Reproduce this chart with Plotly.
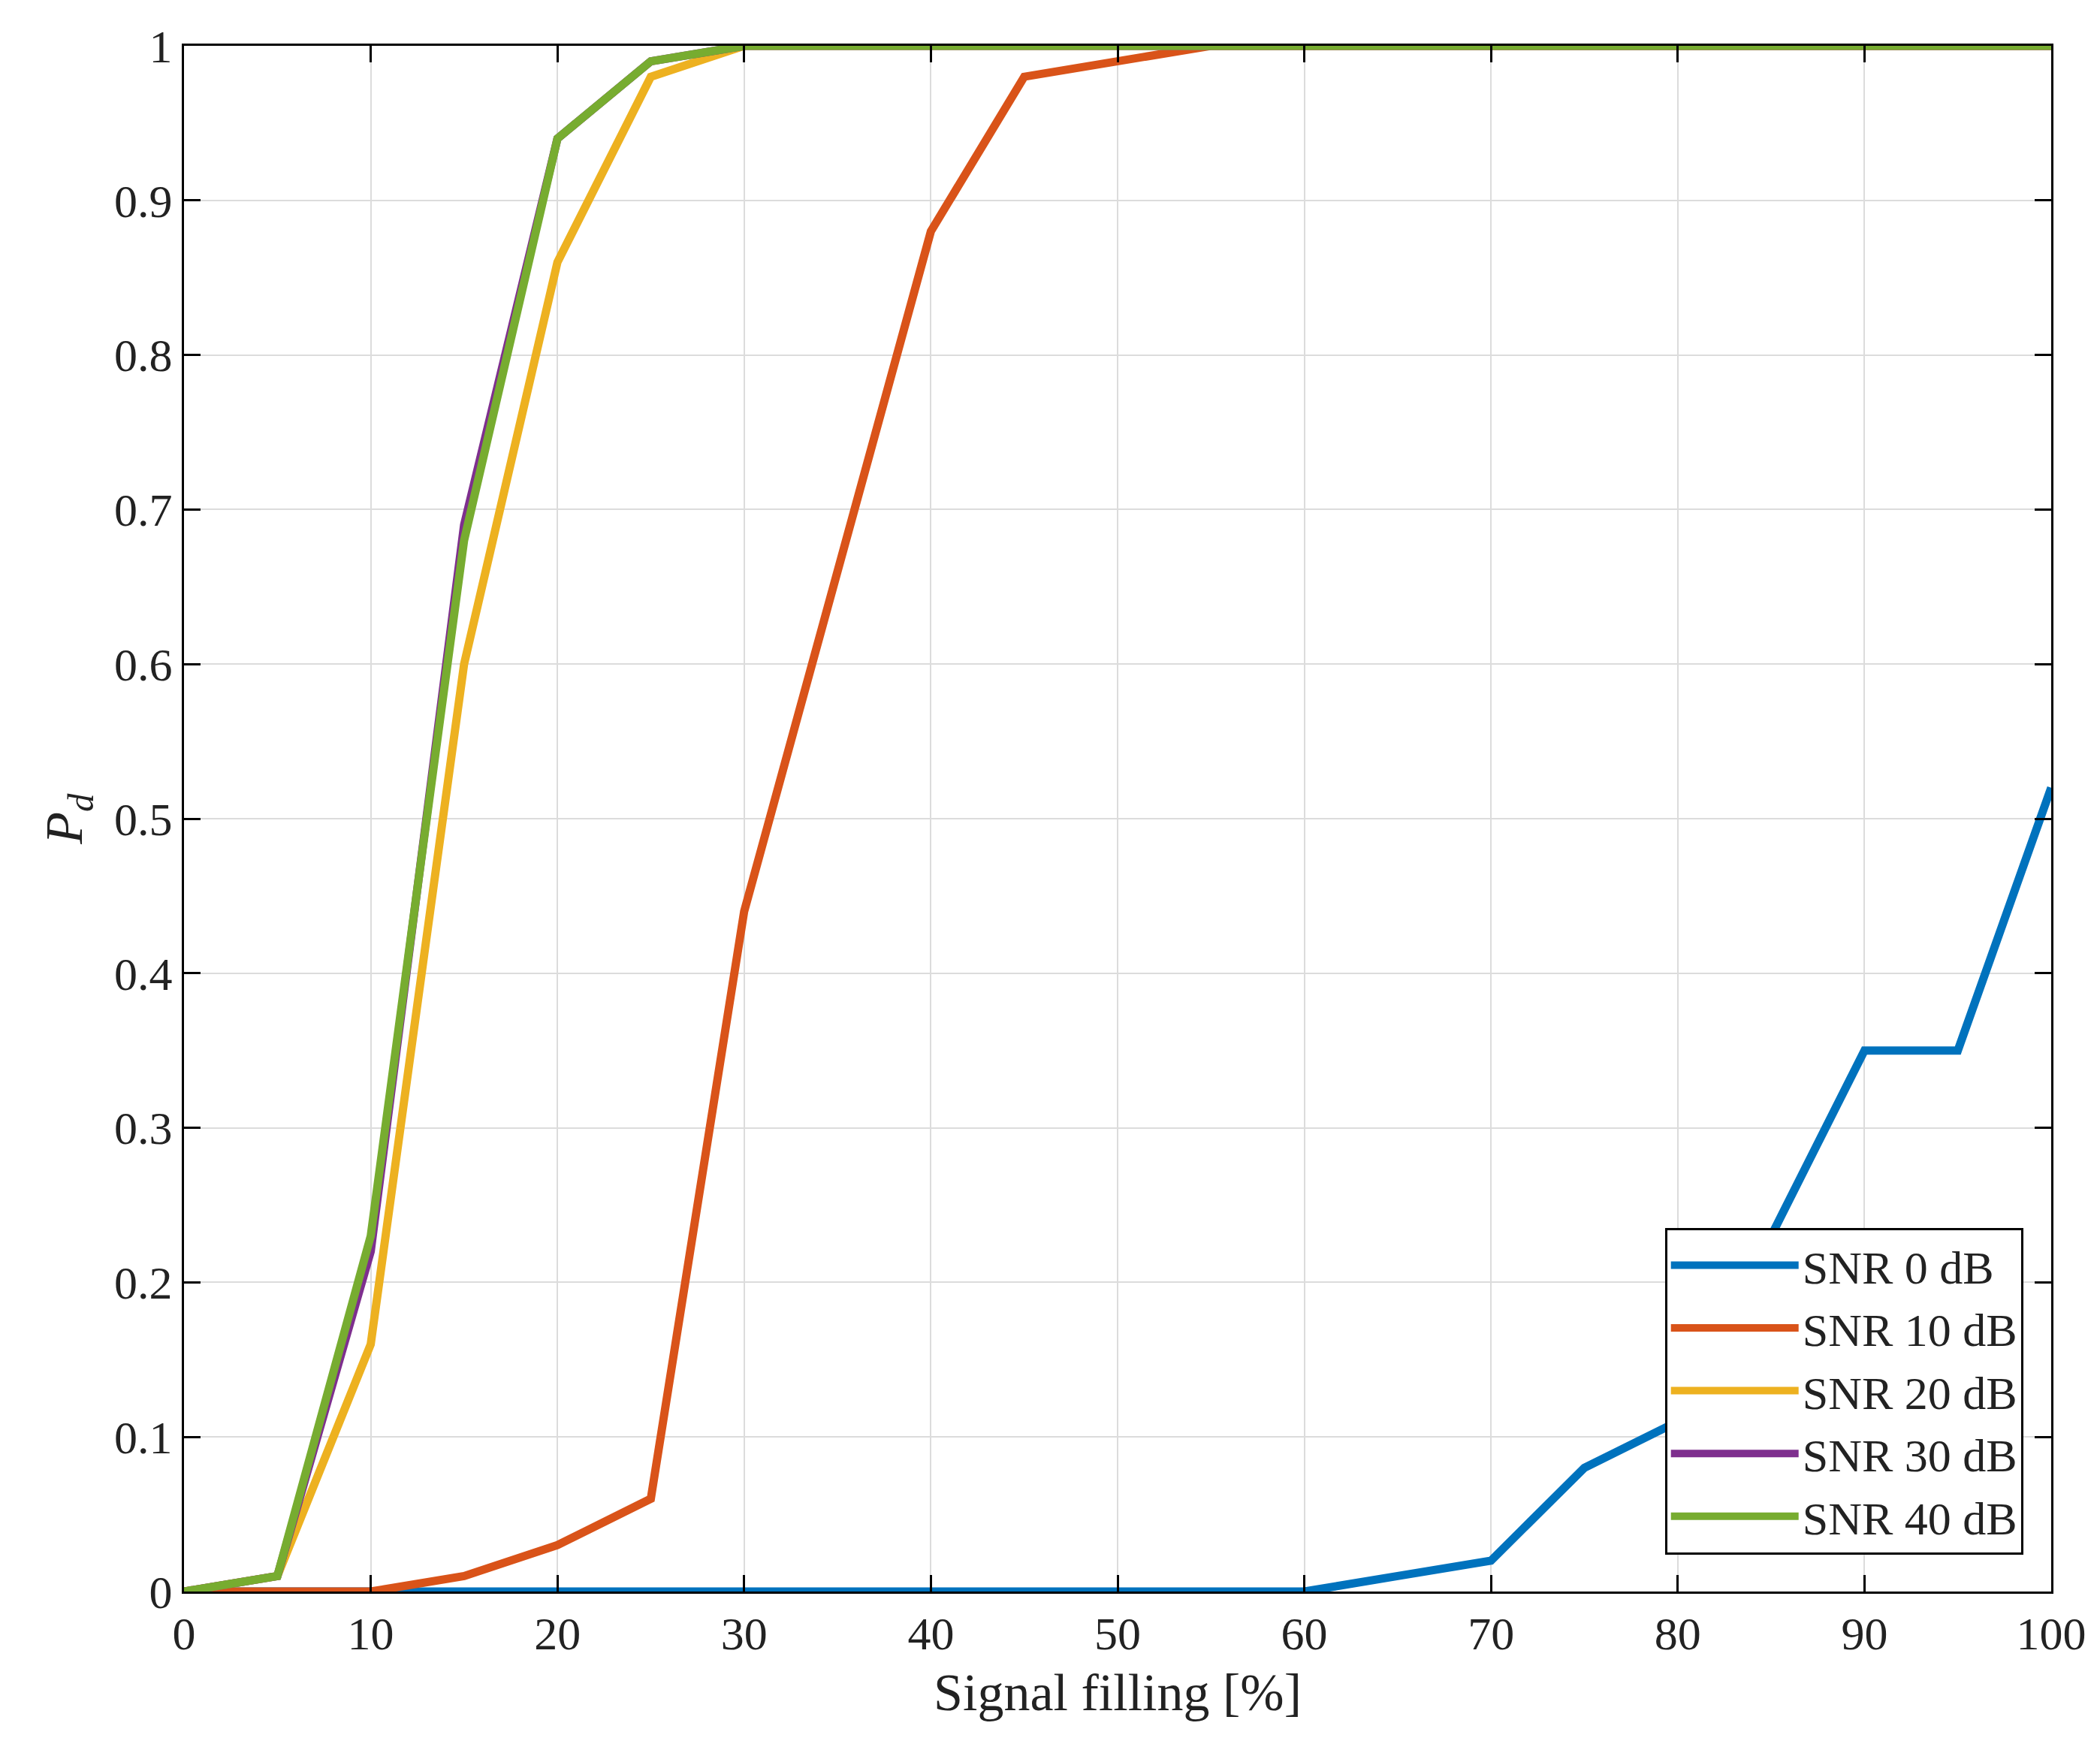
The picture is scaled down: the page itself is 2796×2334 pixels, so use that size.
import plotly.graph_objects as go

x = [0, 5, 10, 15, 20, 25, 30, 35, 40, 45, 50, 55, 60, 65, 70, 75, 80, 85, 90, 95, 100]
snr0 = [0, 0, 0, 0, 0, 0, 0, 0, 0, 0, 0, 0, 0, 0.01, 0.02, 0.08, 0.11, 0.23, 0.35, 0.35, 0.52]
snr10 = [0, 0, 0, 0.01, 0.03, 0.06, 0.44, 0.66, 0.88, 0.98, 0.99, 1, 1, 1, 1, 1, 1, 1, 1, 1, 1]
snr20 = [0, 0.01, 0.16, 0.60, 0.86, 0.98, 1, 1, 1, 1, 1, 1, 1, 1, 1, 1, 1, 1, 1, 1, 1]
snr30 = [0, 0.01, 0.22, 0.69, 0.94, 0.99, 1, 1, 1, 1, 1, 1, 1, 1, 1, 1, 1, 1, 1, 1, 1]
snr40 = [0, 0.01, 0.23, 0.68, 0.94, 0.99, 1, 1, 1, 1, 1, 1, 1, 1, 1, 1, 1, 1, 1, 1, 1]
names = ["SNR 0 dB", "SNR 10 dB", "SNR 20 dB", "SNR 30 dB", "SNR 40 dB"]
colors = ["#0072BD", "#D95319", "#EDB120", "#7E2F8E", "#77AC30"]

font = "Liberation Serif"
fig = go.Figure()
for ys, n, c in zip([snr0, snr10, snr20, snr30, snr40], names, colors):
    fig.add_trace(go.Scatter(x=x, y=ys, name=n, mode="lines", line=dict(color=c, width=11)))

ax = dict(showline=True, linecolor="black", linewidth=3, mirror="ticks", ticks="inside",
          ticklen=22, tickwidth=3, tickcolor="black", showgrid=True, gridcolor="#dcdcdc",
          gridwidth=2, zeroline=False, tickfont=dict(family=font, size=62, color="#222"))
fig.update_xaxes(range=[0, 100], dtick=10, **ax,
                 title=dict(text="Signal filling [%]", font=dict(family=font, size=70, color="#222"), standoff=20))
fig.update_yaxes(range=[0, 1], dtick=0.1, tickformat="~g", **ax,
                 title=dict(text="<i>P<sub>d</sub></i>", font=dict(family=font, size=70, color="#222"), standoff=20))
fig.update_layout(width=2796, height=2334, plot_bgcolor="white", paper_bgcolor="white",
                  margin=dict(l=237, r=73, t=53, b=223), showlegend=True,
                  legend=dict(x=0.985, y=0.024, xanchor="right", yanchor="bottom",
                              bordercolor="black", borderwidth=3, bgcolor="white", itemwidth=170,
                              font=dict(family=font, size=62, color="#222"), tracegroupgap=0))
fig.write_html("out.html")
